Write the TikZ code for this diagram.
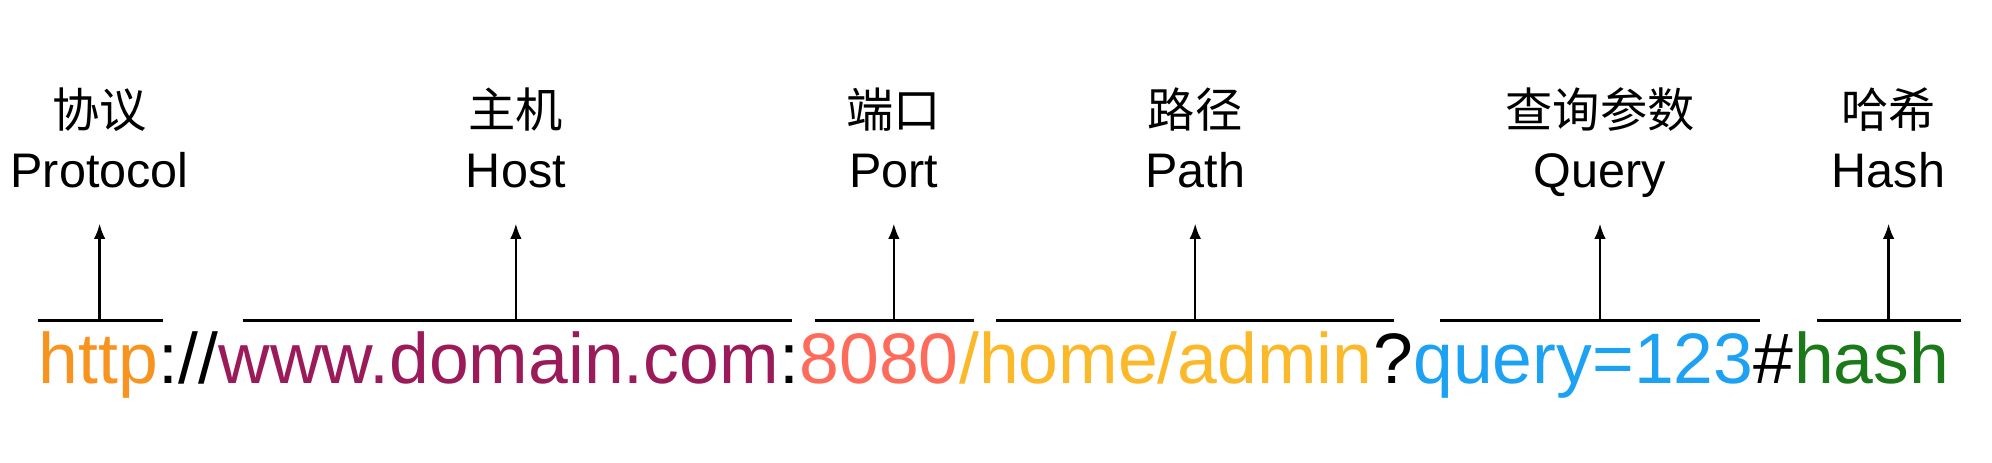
\documentclass[tikz,border=0pt]{standalone}
\usepackage{fontspec}
\setmainfont{Liberation Sans}
\newfontfamily\cjk{Noto Sans CJK SC}
\usetikzlibrary{positioning,arrows.meta}
\definecolor{cproto}{HTML}{F7931E}
\definecolor{chost}{HTML}{9B1B5A}
\definecolor{cport}{HTML}{FF6B5A}
\definecolor{cpath}{HTML}{FBB829}
\definecolor{cquery}{HTML}{1DA1F2}
\definecolor{chash}{HTML}{1A7A1A}
\tikzset{
  seg/.style={inner sep=0pt, anchor=base west, font=\fontsize{56}{62}\selectfont},
  cnlab/.style={inner sep=0pt, anchor=base, font=\cjk\fontsize{37}{42}\selectfont},
  enlab/.style={inner sep=0pt, anchor=base, font=\fontsize{38}{44}\selectfont},
  bar/.style={line width=2.5pt},
  up/.style={line width=2pt, -{Latex[length=12pt,width=9pt]}}
}
\begin{document}
\begin{tikzpicture}[x=1pt,y=1pt]
\useasboundingbox (0,0) rectangle (1560,362);

% URL pieces
\node[seg, text=cproto] (s1) at (30,62) {http};
\node[seg] (s2) at (s1.base east) {://};
\node[seg, text=chost] (s3) at (s2.base east) {www.domain.com};
\node[seg] (s4) at (s3.base east) {:};
\node[seg, text=cport] (s5) at (s4.base east) {8080};
\node[seg, text=cpath] (s6) at (s5.base east) {/home/admin};
\node[seg] (s7) at (s6.base east) {?};
\node[seg, text=cquery] (s8) at (s7.base east) {query=123};
\node[seg] (s9) at (s8.base east) {\#};
\node[seg, text=chash] (s10) at (s9.base east) {hash};

% bars, arrows and labels
\foreach \i/\l/\r/\m/\cn/\en in {
    1/30/128/78/协议/Protocol,
    2/190/620/404/主机/Host,
    3/638/763/700/端口/Port,
    4/780/1092/936/路径/Path,
    5/1128/1378/1253/查询参数/Query,
    6/1423/1536/1479/哈希/Hash}{
  \coordinate (bl\i) at (\l,111);
  \coordinate (br\i) at (\r,111);
  \coordinate (bm\i) at (\m,111);
  \coordinate (bt\i) at (\m,187);
  \draw[bar] (bl\i) -- (br\i);
  \node[enlab] (en\i) at (\m,215) {\en};
  \node[cnlab] (cn\i) at (\m,262) {\cn};
  \draw[up] (bm\i) -- (bt\i);
}

\end{tikzpicture}
\end{document}
